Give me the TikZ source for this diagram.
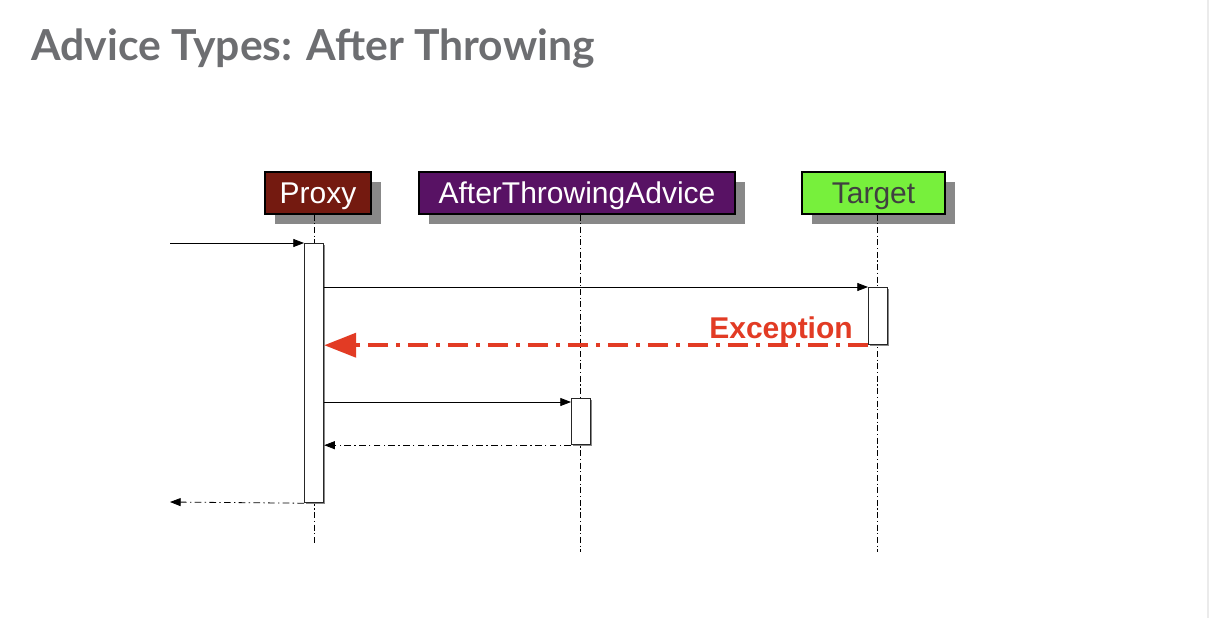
\documentclass[tikz,border=0pt]{standalone}
\usepackage{fontspec}
\setmainfont{Liberation Sans}
\newfontfamily\titlefont{Lato}
\usetikzlibrary{arrows.meta,calc}
\definecolor{titlegray}{HTML}{6D6E71}
\definecolor{proxyred}{HTML}{741A10}
\definecolor{advpurple}{HTML}{581264}
\definecolor{targreen}{HTML}{77F03C}
\definecolor{shadowgray}{HTML}{888888}
\definecolor{excred}{HTML}{E23B24}
\tikzset{
  x=0.75pt, y=-0.75pt,
  objbox/.style={draw=black, line width=0.9pt, inner sep=0pt, minimum height=31.5pt, text height=16pt, text depth=1pt, font=\fontsize{22.5}{26}\selectfont},
  act/.style={draw=black!85, line width=0.9pt, fill=white, anchor=north west, minimum width=14.25pt, inner sep=0pt},
  lifeline/.style={line width=0.7pt, dash pattern=on 4.5pt off 2pt on 0.8pt off 2pt},
  msg/.style={line width=0.6pt, -{Triangle[length=8pt,width=6pt]}},
  ret/.style={line width=0.6pt, dash pattern=on 5pt off 2.5pt on 1pt off 2.5pt, -{Triangle[length=8pt,width=6pt]}},
  exc/.style={excred, line width=3pt, dash pattern=on 15pt off 6pt on 3pt off 6pt, -{Triangle[length=24pt,width=18pt]}},
}
\begin{document}
\begin{tikzpicture}
\useasboundingbox (0,0) rectangle (1210,618);
\fill[white] (0,0) rectangle (1210,618);
\fill[black!8] (1207,0) rectangle (1209,618);
% title
\node[anchor=base west, inner sep=0pt, text=titlegray, font=\titlefont\bfseries\fontsize{32}{36}\selectfont] (title) at (31,60) {Advice Types: After Throwing};
% shadows
\fill[shadowgray] (275,182) rectangle (381,224);
\fill[shadowgray] (429,182) rectangle (745,224);
\fill[shadowgray] (812,182) rectangle (955,224);
% object boxes
\node[objbox, fill=proxyred, text=white, minimum width=79.5pt] (proxy) at (318,193) {Proxy};
\node[objbox, fill=advpurple, text=white, minimum width=237pt] (advice) at (577,193) {AfterThrowingAdvice};
\node[objbox, fill=targreen, text=black!75, minimum width=107.25pt] (target) at (873.5,193) {Target};
% lifelines
\coordinate (pend) at (314,545);
\coordinate (aend) at (580,552);
\coordinate (tend) at (877,552);
\draw[lifeline] (proxy.south -| pend) -- (pend);
\draw[lifeline] (advice.south -| aend) -- (aend);
\draw[lifeline] (target.south -| tend) -- (tend);
% activation shadows
\fill[shadowgray] (306,245) rectangle (325,504);
\fill[shadowgray] (870,289) rectangle (889,346);
\fill[shadowgray] (573,400) rectangle (592,446);
% activations
\node[act, minimum height=194.25pt] (pa) at (304,243) {};
\node[act, minimum height=42.75pt] (ta) at (868,287) {};
\node[act, minimum height=34.5pt] (aa) at (571,398) {};
% messages
\coordinate (in) at (170,243);
\coordinate (out) at (170,502);
\draw[msg] (in) -- (pa.north west);
\draw[msg] (pa.east |- ta.north west) -- (ta.north west);
\draw[exc] (ta.south west) -- (pa.east |- ta.south west);
\node[anchor=base east, inner sep=0pt, text=excred, font=\bfseries\fontsize{22.5}{26}\selectfont] (exclabel) at (853,338) {Exception};
\draw[msg] ($(pa.east |- aa.north west)+(0,4)$) -- ($(aa.north west)+(0,4)$);
\draw[ret] (aa.south west) -- (pa.east |- aa.south west);
\draw[ret] (pa.south west) -- (out);
\end{tikzpicture}
\end{document}
